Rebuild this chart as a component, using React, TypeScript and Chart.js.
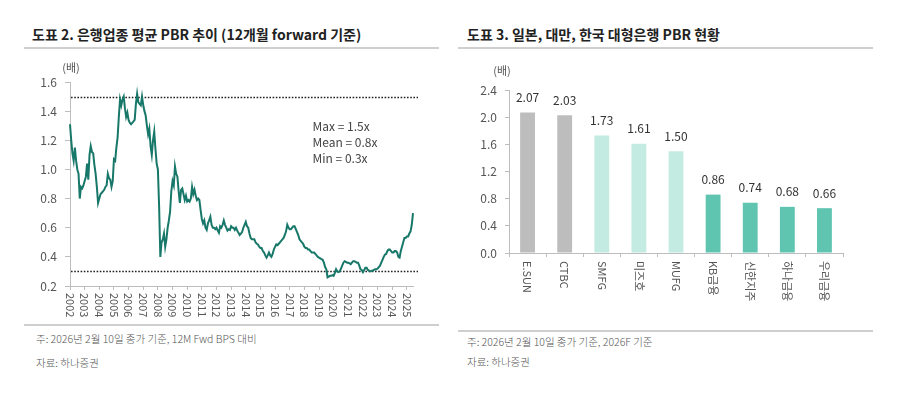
import { useEffect, useRef } from "react";
import { Chart, registerables } from "chart.js";
Chart.register(...registerables);

const FONT = '"Noto Sans CJK KR", "Noto Sans", sans-serif';

// ---------- Left chart data ----------
const yearTicks = [
  "2002", "2003", "2004", "2005", "2006", "2007", "2008", "2009", "2010", "2011", "2012", "2013",
  "2014", "2015", "2016", "2017", "2018", "2019", "2020", "2021", "2022", "2023", "2024", "2025",
];

const pbrValues = [
  // 2002
  1.31, 1.2, 1.11, 1.06, 1.15, 1.06, 1.0, 0.97, 0.8, 0.88, 0.87, 0.89,
  // 2003
  0.92, 0.95, 1.04, 0.93, 1.1, 1.16, 1.12, 1.11, 1.03, 0.97, 0.88, 0.77,
  // 2004
  0.8, 0.83, 0.84, 0.85, 0.86, 0.88, 0.89, 0.97, 0.94, 0.93, 0.88, 0.92,
  // 2005
  1.07, 1.06, 1.15, 1.22, 1.36, 1.48, 1.44, 1.48, 1.5, 1.42, 1.36, 1.39,
  // 2006
  1.34, 1.32, 1.31, 1.32, 1.33, 1.34, 1.45, 1.52, 1.46, 1.45, 1.44, 1.5,
  // 2007
  1.44, 1.4, 1.37, 1.3, 1.24, 1.28, 1.16, 1.1, 1.2, 1.26, 1.14, 1.04,
  // 2008
  1.0, 0.75, 0.4, 0.5, 0.52, 0.56, 0.47, 0.52, 0.6, 0.65, 0.71, 0.85,
  // 2009
  0.92, 0.89, 1.02, 0.97, 0.95, 0.85, 0.77, 0.86, 0.87, 0.83, 0.79, 0.82,
  // 2010
  0.78, 0.79, 0.78, 0.8, 0.88, 0.83, 0.86, 0.82, 0.79, 0.8, 0.79, 0.72,
  // 2011
  0.66, 0.63, 0.65, 0.6, 0.585, 0.63, 0.65, 0.675, 0.62, 0.6, 0.6, 0.59,
  // 2012
  0.6, 0.58, 0.565, 0.61, 0.6, 0.62, 0.65, 0.62, 0.6, 0.58, 0.59, 0.585,
  // 2013
  0.61, 0.6, 0.6, 0.585, 0.6, 0.58, 0.565, 0.55, 0.56, 0.57, 0.6, 0.62,
  // 2014
  0.64, 0.61, 0.6, 0.56, 0.53, 0.52, 0.52, 0.52, 0.5, 0.49, 0.485, 0.47,
  // 2015
  0.46, 0.46, 0.44, 0.43, 0.41, 0.395, 0.41, 0.43, 0.41, 0.4, 0.42, 0.45,
  // 2016
  0.47, 0.485, 0.48, 0.49, 0.5, 0.51, 0.52, 0.53, 0.55, 0.575, 0.62, 0.6,
  // 2017
  0.59, 0.59, 0.6, 0.61, 0.61, 0.59, 0.57, 0.55, 0.52, 0.51, 0.5, 0.49,
  // 2018
  0.47, 0.46, 0.46, 0.45, 0.45, 0.44, 0.43, 0.43, 0.43, 0.42, 0.41, 0.4,
  // 2019
  0.395, 0.39, 0.385, 0.38, 0.36, 0.33, 0.315, 0.26, 0.265, 0.27, 0.27, 0.275,
  // 2020
  0.27, 0.29, 0.315, 0.3, 0.295, 0.3, 0.32, 0.34, 0.36, 0.37, 0.365, 0.36,
  // 2021
  0.36, 0.355, 0.35, 0.36, 0.37, 0.37, 0.365, 0.36, 0.36, 0.34, 0.315, 0.31,
  // 2022
  0.295, 0.31, 0.325, 0.325, 0.31, 0.305, 0.3, 0.305, 0.305, 0.31, 0.315, 0.315,
  // 2023
  0.32, 0.33, 0.34, 0.36, 0.38, 0.4, 0.415, 0.42, 0.44, 0.45, 0.45, 0.44,
  // 2024
  0.43, 0.43, 0.44, 0.44, 0.43, 0.4, 0.395, 0.44, 0.47, 0.5, 0.53, 0.53,
  // 2025
  0.54, 0.54, 0.56, 0.575, 0.62, 0.7,
];

const monthLabels = pbrValues.map(
  (_, i) => `${yearTicks[Math.floor(i / 12)]}-${String((i % 12) + 1).padStart(2, "0")}`
);

const maxLine = 1.5;
const minLine = 0.3;
const statTexts = ["Max = 1.5x", "Mean = 0.8x", "Min = 0.3x"];

// ---------- Right chart data ----------
const bankNames = ["E.SUN", "CTBC", "SMFG", "미즈호", "MUFG", "KB금융", "신한지주", "하나금융", "우리금융"];
const bankPbr = [2.07, 2.03, 1.73, 1.61, 1.5, 0.86, 0.74, 0.68, 0.66];
const bankColors = [
  "#bdbdbd", "#bdbdbd",
  "#c4ebe2", "#c4ebe2", "#c4ebe2",
  "#5fc5b1", "#5fc5b1", "#5fc5b1", "#5fc5b1",
];

const AXIS = "#bdbdbd";
const TICK_TXT = "#555";

function drawRotatedXLabels(chart: any, offset: number, size: number) {
  const { ctx, chartArea } = chart;
  const xs = chart.scales.x;
  ctx.save();
  ctx.font = `${size}px ${FONT}`;
  ctx.fillStyle = TICK_TXT;
  ctx.textAlign = "left";
  ctx.textBaseline = "middle";
  xs.ticks.forEach((t: any, i: number) => {
    if (t.label === null || t.label === undefined || t.label === "") return;
    const x = xs.getPixelForTick(i);
    ctx.save();
    ctx.translate(x, chartArea.bottom + offset);
    ctx.rotate(Math.PI / 2);
    ctx.fillText(String(t.label), 0, 0);
    ctx.restore();
  });
  ctx.restore();
}

const leftPlugin = {
  id: "leftExtras",
  beforeDatasetsDraw(chart: any) {
    const { ctx, chartArea } = chart;
    const ys = chart.scales.y;
    ctx.save();
    ctx.strokeStyle = "#222";
    ctx.lineWidth = 1.5;
    ctx.setLineDash([1.6, 1.6]);
    [maxLine, minLine].forEach((v) => {
      const y = Math.round(ys.getPixelForValue(v)) + 0.5;
      ctx.beginPath();
      ctx.moveTo(chartArea.left + 1, y);
      ctx.lineTo(chartArea.right + 5, y);
      ctx.stroke();
    });
    ctx.restore();
  },
  afterDraw(chart: any) {
    const { ctx, chartArea } = chart;
    const ys = chart.scales.y;
    drawRotatedXLabels(chart, 7, 11);
    ctx.save();
    ctx.fillStyle = "#555";
    ctx.font = `11px ${FONT}`;
    ctx.textAlign = "center";
    ctx.textBaseline = "middle";
    ctx.fillText("(배)", chartArea.left + 1, chartArea.top - 14);
    ctx.fillStyle = "#444";
    ctx.font = `12px ${FONT}`;
    ctx.textAlign = "left";
    const x0 = chartArea.left + (chartArea.right - chartArea.left) * 0.707;
    const y0 = ys.getPixelForValue(1.297);
    statTexts.forEach((s, i) => ctx.fillText(s, x0, y0 + i * 16));
    ctx.restore();
  },
};

const rightPlugin = {
  id: "rightExtras",
  afterDraw(chart: any) {
    const { ctx, chartArea } = chart;
    drawRotatedXLabels(chart, 8, 11);
    ctx.save();
    ctx.fillStyle = "#555";
    ctx.font = `11px ${FONT}`;
    ctx.textAlign = "center";
    ctx.textBaseline = "middle";
    ctx.fillText("(배)", chartArea.left - 7, chartArea.top - 19);
    ctx.fillStyle = "#333";
    ctx.font = `12px ${FONT}`;
    const meta = chart.getDatasetMeta(0);
    meta.data.forEach((bar: any, i: number) => {
      ctx.fillText(bankPbr[i].toFixed(2), bar.x, bar.y - 15);
    });
    ctx.restore();
  },
};

function LeftChart() {
  const ref = useRef<HTMLCanvasElement>(null);
  useEffect(() => {
    if (!ref.current) return;
    const chart = new Chart(ref.current, {
      type: "line",
      data: {
        labels: monthLabels,
        datasets: [
          {
            data: pbrValues,
            borderColor: "#17786a",
            borderWidth: 2,
            pointRadius: 0,
            tension: 0,
            fill: false,
          },
        ],
      },
      options: {
        animation: false,
        responsive: false,
        layout: { padding: { top: 27, right: 27, left: 0, bottom: 0 } },
        plugins: { legend: { display: false }, tooltip: { enabled: false } },
        scales: {
          x: {
            type: "category",
            offset: false,
            grid: { display: true, drawOnChartArea: false, drawTicks: true, tickLength: 4, color: AXIS },
            border: { color: AXIS, width: 1 },
            ticks: {
              autoSkip: false,
              maxRotation: 0,
              minRotation: 0,
              color: "rgba(0,0,0,0)",
              font: { size: 8 },
              callback: (_v: any, idx: number) => (idx % 12 === 0 ? yearTicks[idx / 12] : null),
            },
            afterFit: (s: any) => {
              s.height = 34;
            },
          },
          y: {
            min: 0.2,
            max: 1.6,
            grid: { display: true, drawOnChartArea: false, drawTicks: true, tickLength: 5, color: AXIS },
            border: { color: AXIS, width: 1 },
            ticks: {
              stepSize: 0.2,
              padding: 8,
              color: TICK_TXT,
              font: { size: 12, family: FONT },
              callback: (v: any) => Number(v).toFixed(1),
            },
            afterFit: (s: any) => {
              s.width = 46;
            },
          },
        },
      },
      plugins: [leftPlugin],
    });
    return () => chart.destroy();
  }, []);
  return <canvas ref={ref} width={416} height={265} style={{ position: "absolute", left: 24, top: 55, width: 416, height: 265 }} />;
}

function RightChart() {
  const ref = useRef<HTMLCanvasElement>(null);
  useEffect(() => {
    if (!ref.current) return;
    const chart = new Chart(ref.current, {
      type: "bar",
      data: {
        labels: bankNames,
        datasets: [
          {
            data: bankPbr,
            backgroundColor: bankColors,
            barPercentage: 0.4,
            categoryPercentage: 1.0,
          },
        ],
      },
      options: {
        animation: false,
        responsive: false,
        layout: { padding: { top: 30, right: 30, left: 0, bottom: 0 } },
        plugins: { legend: { display: false }, tooltip: { enabled: false } },
        scales: {
          x: {
            grid: { display: true, drawOnChartArea: false, drawTicks: true, tickLength: 4, color: AXIS },
            border: { color: AXIS, width: 1 },
            ticks: { color: "rgba(0,0,0,0)", autoSkip: false, maxRotation: 0, minRotation: 0, font: { size: 8 } },
            afterFit: (s: any) => {
              s.height = 72;
            },
          },
          y: {
            min: 0,
            max: 2.4,
            grid: { display: true, drawOnChartArea: false, drawTicks: true, tickLength: 4, color: AXIS },
            border: { color: AXIS, width: 1 },
            ticks: {
              stepSize: 0.4,
              padding: 8,
              color: TICK_TXT,
              font: { size: 12, family: FONT },
              callback: (v: any) => Number(v).toFixed(1),
            },
            afterFit: (s: any) => {
              s.width = 51;
            },
          },
        },
      },
      plugins: [rightPlugin],
    });
    return () => chart.destroy();
  }, []);
  return <canvas ref={ref} width={415} height={265} style={{ position: "absolute", left: 458, top: 60, width: 415, height: 265 }} />;
}

export default function App() {
  const title: React.CSSProperties = {
    position: "absolute",
    top: 26,
    fontSize: 14,
    fontWeight: 700,
    color: "#222",
    lineHeight: "16px",
    whiteSpace: "nowrap",
    fontFamily: FONT,
  };
  const line = (left: number, top: number, width: number): React.CSSProperties => ({
    position: "absolute",
    left,
    top,
    width,
    height: 2,
    background: "#cfcfcf",
  });
  const note: React.CSSProperties = {
    position: "absolute",
    fontSize: 10.5,
    color: "#555",
    lineHeight: "14px",
    whiteSpace: "nowrap",
    fontFamily: FONT,
    fontWeight: 300,
  };
  return (
    <div style={{ position: "fixed", left: 0, top: 0, width: 900, height: 396, background: "#fff", overflow: "hidden", fontFamily: FONT }}>
      <div style={{ ...title, left: 32 }}>도표 2. 은행업종 평균 PBR 추이 (12개월 forward 기준)</div>
      <div style={{ ...title, left: 467 }}>도표 3. 일본, 대만, 한국 대형은행 PBR 현황</div>
      <div style={line(24, 47, 415)} />
      <div style={line(458, 47, 415)} />
      <LeftChart />
      <RightChart />
      <div style={line(24, 324, 415)} />
      <div style={line(458, 330, 415)} />
      <div style={{ ...note, left: 36, top: 332 }}>주: 2026년 2월 10일 종가 기준, 12M Fwd BPS 대비</div>
      <div style={{ ...note, left: 36, top: 356 }}>자료: 하나증권</div>
      <div style={{ ...note, left: 467, top: 335 }}>주: 2026년 2월 10일 종가 기준, 2026F 기준</div>
      <div style={{ ...note, left: 467, top: 355 }}>자료: 하나증권</div>
    </div>
  );
}
